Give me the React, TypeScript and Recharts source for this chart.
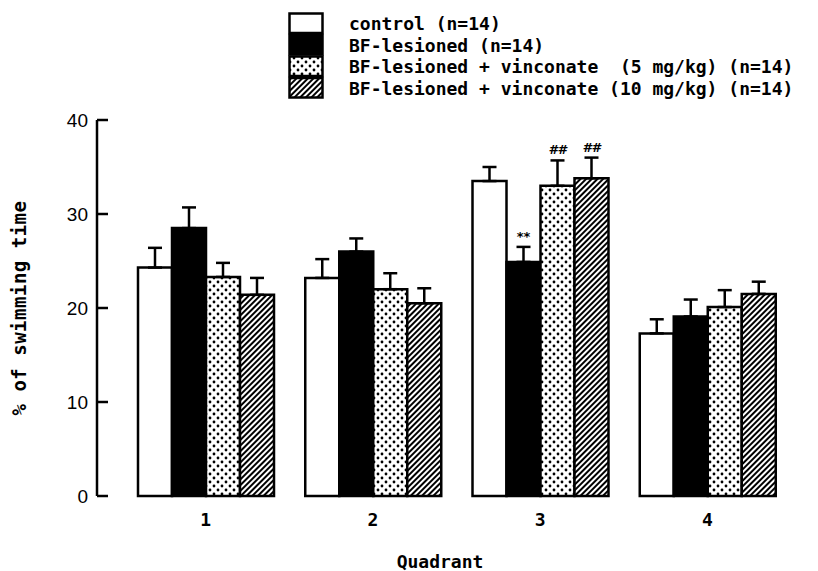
import React from 'react';
import { BarChart, Bar, XAxis, YAxis, ErrorBar, LabelList, Legend } from 'recharts';

const QUADRANTS = ['1', '2', '3', '4'];
const CONTROL = [24.3, 23.2, 33.5, 17.3];
const CONTROL_SEM = [2.1, 2.0, 1.5, 1.5];
const LESIONED = [28.5, 26.0, 24.9, 19.1];
const LESIONED_SEM = [2.2, 1.4, 1.6, 1.8];
const VIN5 = [23.3, 22.0, 33.0, 20.1];
const VIN5_SEM = [1.5, 1.7, 2.7, 1.8];
const VIN10 = [21.4, 20.5, 33.8, 21.5];
const VIN10_SEM = [1.8, 1.6, 2.2, 1.3];
const LESIONED_MARKS = ['', '', '**', ''];
const VIN5_MARKS = ['', '', '##', ''];
const VIN10_MARKS = ['', '', '##', ''];
const Y_TICKS = [0, 10, 20, 30, 40];

const LEGEND_LABELS = [
  'control (n=14)',
  'BF-lesioned (n=14)',
  'BF-lesioned + vinconate  (5 mg/kg) (n=14)',
  'BF-lesioned + vinconate (10 mg/kg) (n=14)',
];
const FILLS = ['#ffffff', '#000000', 'url(#dots)', 'url(#hatch)'];
const LEGEND_FILLS = ['#ffffff', '#000000', 'url(#lg-dots)', 'url(#lg-hatch)'];

const MONO = '"DejaVu Sans Mono", monospace';

const data = QUADRANTS.map((q, i) => ({
  q,
  control: CONTROL[i],
  controlErr: [0, CONTROL_SEM[i]],
  lesioned: LESIONED[i],
  lesionedErr: [0, LESIONED_SEM[i]],
  lesionedMark: LESIONED_MARKS[i],
  vin5: VIN5[i],
  vin5Err: [0, VIN5_SEM[i]],
  vin5Mark: VIN5_MARKS[i],
  vin10: VIN10[i],
  vin10Err: [0, VIN10_SEM[i]],
  vin10Mark: VIN10_MARKS[i],
}));

const Patterns = ({ prefix }: { prefix: string }) => (
  <defs>
    <pattern id={`${prefix}dots`} width="8" height="8" patternUnits="userSpaceOnUse">
      <rect width="8" height="8" fill="#fff" />
      <circle cx="2" cy="2" r="1.4" fill="#000" />
      <circle cx="6" cy="6" r="1.4" fill="#000" />
    </pattern>
    <pattern id={`${prefix}hatch`} width="4" height="4" patternUnits="userSpaceOnUse" patternTransform="rotate(45)">
      <rect width="4" height="4" fill="#fff" />
      <rect width="2" height="4" fill="#000" />
    </pattern>
  </defs>
);

// significance marks sit just above the error bar cap
const markLabel = (sem: number[], vals: number[]) => (props: any) => {
  const { x, y, width, height, value, index } = props;
  if (!value) return null;
  const errPx = (Number(height) * sem[index]) / vals[index];
  return (
    <text
      x={Number(x) + Number(width) / 2}
      y={Number(y) - errPx - 6}
      textAnchor="middle"
      fontSize={13}
      fontWeight="bold"
      fontStyle="italic"
      fontFamily='"DejaVu Sans", sans-serif'
      fill="#000"
    >
      {value}
    </text>
  );
};

const YTick = (props: any) => {
  const { x, y, payload } = props;
  return (
    <g>
      <line x1={x + 9} x2={x + 20} y1={y} y2={y} stroke="#000" strokeWidth={2.5} />
      <text x={x} y={y} dy={7} textAnchor="end" fontSize={19} fontFamily='"Liberation Sans", Arial, sans-serif' fill="#000">
        {payload.value}
      </text>
    </g>
  );
};

const XTick = (props: any) => {
  const { x, y, payload } = props;
  return (
    <text x={x} y={y} dy={13} textAnchor="middle" fontSize={18} fontWeight="bold" fontFamily={MONO} fill="#000">
      {payload.value}
    </text>
  );
};

const LegendBox = () => (
  <svg width={520} height={92} style={{ display: 'block' }}>
    <Patterns prefix="lg-" />
    {LEGEND_LABELS.map((label, i) => (
      <g key={label}>
        <rect x={1.5} y={1.5 + i * 21.5} width={33} height={19.5} fill={LEGEND_FILLS[i]} stroke="#000" strokeWidth={2.5} />
        <text
          x={61}
          y={18 + i * 21.5}
          fontSize={18}
          fontWeight="bold"
          fontFamily={MONO}
          fill="#000"
          style={{ whiteSpace: 'pre' }}
        >
          {label}
        </text>
      </g>
    ))}
  </svg>
);

export default function App() {
  return (
    <div style={{ position: 'absolute', left: 0, top: 0, width: 818, height: 571, background: '#fff' }}>
      <BarChart
        width={818}
        height={571}
        data={data}
        margin={{ top: 120, right: 27, bottom: 0, left: 0 }}
        barCategoryGap={16}
        barGap={0}
      >
        <Patterns prefix="" />
        <XAxis
          dataKey="q"
          axisLine={false}
          tickLine={false}
          tickSize={0}
          tickMargin={17}
          height={75}
          padding={{ left: 25, right: 0 }}
          tick={<XTick />}
          label={{
            content: ({ viewBox }: any) => (
              <text
                x={viewBox.x + viewBox.width / 2 - 4}
                y={viewBox.y + 72}
                textAnchor="middle"
                fontSize={18}
                fontWeight="bold"
                fontFamily={MONO}
                fill="#000"
              >
                Quadrant
              </text>
            ),
          }}
        />
        <YAxis
          domain={[0, 40]}
          ticks={Y_TICKS}
          width={97}
          tickSize={0}
          tickMargin={9}
          tickLine={false}
          axisLine={{ stroke: '#000', strokeWidth: 2.5 }}
          tick={<YTick />}
          label={{
            content: ({ viewBox }: any) => {
              const cx = viewBox.x + 20;
              const cy = viewBox.y + viewBox.height / 2;
              return (
                <text
                  x={cx}
                  y={cy}
                  transform={`rotate(-90 ${cx} ${cy})`}
                  dy={6}
                  textAnchor="middle"
                  fontSize={19}
                  fontWeight="bold"
                  letterSpacing={0.5}
                  fontFamily={MONO}
                  fill="#000"
                  style={{ whiteSpace: 'pre' }}
                >
                  % of swimming time
                </text>
              );
            },
          }}
        />
        <Legend
          layout="vertical"
          align="center"
          verticalAlign="middle"
          wrapperStyle={{ position: 'absolute', left: 288, top: 12, width: 520 }}
          content={() => <LegendBox />}
        />
        <Bar dataKey="control" fill={FILLS[0]} stroke="#000" strokeWidth={2.5} isAnimationActive={false}>
          <ErrorBar dataKey="controlErr" direction="y" width={7} stroke="#000" strokeWidth={2.5} />
        </Bar>
        <Bar dataKey="lesioned" fill={FILLS[1]} stroke="#000" strokeWidth={2.5} isAnimationActive={false}>
          <ErrorBar dataKey="lesionedErr" direction="y" width={7} stroke="#000" strokeWidth={2.5} />
          <LabelList dataKey="lesionedMark" content={markLabel(LESIONED_SEM, LESIONED)} />
        </Bar>
        <Bar dataKey="vin5" fill={FILLS[2]} stroke="#000" strokeWidth={2.5} isAnimationActive={false}>
          <ErrorBar dataKey="vin5Err" direction="y" width={7} stroke="#000" strokeWidth={2.5} />
          <LabelList dataKey="vin5Mark" content={markLabel(VIN5_SEM, VIN5)} />
        </Bar>
        <Bar dataKey="vin10" fill={FILLS[3]} stroke="#000" strokeWidth={2.5} isAnimationActive={false}>
          <ErrorBar dataKey="vin10Err" direction="y" width={7} stroke="#000" strokeWidth={2.5} />
          <LabelList dataKey="vin10Mark" content={markLabel(VIN10_SEM, VIN10)} />
        </Bar>
      </BarChart>
    </div>
  );
}
